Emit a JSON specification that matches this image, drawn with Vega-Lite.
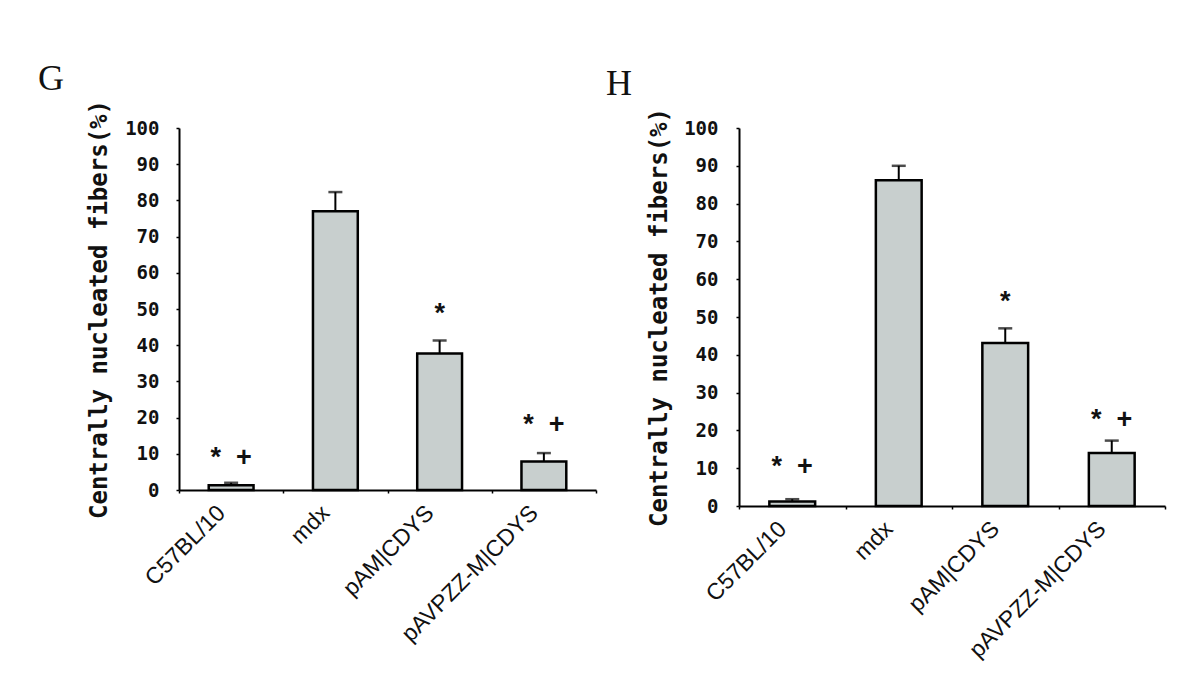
{
  "$schema": "https://vega.github.io/schema/vega-lite/v6.json",
  "background": "white",
  "padding": {"left": 38, "top": 61, "right": 5, "bottom": 5},
  "spacing": 9,
  "datasets": {
    "g": [
      {"group": "C57BL/10", "value": 1.3, "upper": 2.0, "note": "*\u00a0\u00a0+", "noteY": 8.8},
      {"group": "mdx", "value": 77, "upper": 82.3, "note": "", "noteY": 0},
      {"group": "pAM|CDYS", "value": 37.7, "upper": 41.3, "note": "*", "noteY": 48.6},
      {"group": "pAVPZZ-M|CDYS", "value": 7.9, "upper": 10.2, "note": "*\u00a0\u00a0+", "noteY": 18}
    ],
    "h": [
      {"group": "C57BL/10", "value": 1.2, "upper": 1.8, "note": "*\u00a0\u00a0+", "noteY": 10.3},
      {"group": "mdx", "value": 86.2, "upper": 90, "note": "", "noteY": 0},
      {"group": "pAM|CDYS", "value": 43.1, "upper": 47, "note": "*", "noteY": 54},
      {"group": "pAVPZZ-M|CDYS", "value": 14, "upper": 17.3, "note": "*\u00a0\u00a0+", "noteY": 22.7}
    ]
  },
  "config": {
    "view": {"stroke": null},
    "axis": {"grid": false, "domainColor": "black", "domainWidth": 2, "tickColor": "black", "tickWidth": 1.5},
    "axisY": {"values": [0,10,20,30,40,50,60,70,80,90,100], "labelOverlap": false, "labelFont": "DejaVu Sans Mono", "labelFontWeight": "bold", "labelFontSize": 19, "labelColor": "#111", "labelPadding": 17, "tickSize": 3,
              "titleFont": "DejaVu Sans Mono", "titleFontWeight": "bold", "titleFontSize": 24, "titleColor": "#111", "titlePadding": 13},
    "axisX": {"labelAngle": -45, "labelAlign": "right", "labelBaseline": "middle", "labelFont": "Liberation Sans", "labelFontSize": 23, "labelColor": "#111", "labelPadding": 16, "labelOffset": -10, "labelLimit": 0, "labelOverlap": false, "tickBand": "extent", "tickSize": 3},
    "title": {"font": "Liberation Serif", "fontSize": 36, "fontWeight": "normal", "color": "#111", "anchor": "start", "frame": "group"}
  },
  "hconcat": [
    {
      "width": 417,
      "height": 362,
      "title": {"text": "G", "dx": -141, "offset": 1},
      "data": {"name": "g"},
      "encoding": {
        "x": {"field": "group", "type": "nominal", "sort": null, "title": null,
              "scale": {"paddingInner": 0, "paddingOuter": 0}},
        "y": {"field": "value", "type": "quantitative",
              "scale": {"domain": [0, 100], "nice": false},
              "title": "Centrally nucleated fibers(%)"}
      },
      "layer": [
        {"mark": {"type": "rule", "color": "black", "strokeWidth": 2},
         "encoding": {"y2": {"field": "upper"}}},
        {"mark": {"type": "tick", "color": "black", "thickness": 2.5, "size": 14},
         "encoding": {"y": {"field": "upper", "type": "quantitative"}}},
        {"mark": {"type": "bar", "fill": "#c8cfce", "stroke": "black", "strokeWidth": 2.5, "width": {"band": 0.43}}},
        {"mark": {"type": "text", "font": "Liberation Sans", "fontSize": 27, "fontWeight": "bold", "color": "#111", "baseline": "middle"},
         "encoding": {"y": {"field": "noteY", "type": "quantitative"}, "text": {"field": "note"}}}
      ]
    },
    {
      "width": 426,
      "height": 378,
      "title": {"text": "H", "dx": -133, "offset": 4},
      "data": {"name": "h"},
      "encoding": {
        "x": {"field": "group", "type": "nominal", "sort": null, "title": null,
              "scale": {"paddingInner": 0, "paddingOuter": 0}},
        "y": {"field": "value", "type": "quantitative",
              "scale": {"domain": [0, 100], "nice": false},
              "title": "Centrally nucleated fibers(%)",
              "axis": {"labelPadding": 18, "titlePadding": 12}}
      },
      "layer": [
        {"mark": {"type": "rule", "color": "black", "strokeWidth": 2},
         "encoding": {"y2": {"field": "upper"}}},
        {"mark": {"type": "tick", "color": "black", "thickness": 2.5, "size": 14},
         "encoding": {"y": {"field": "upper", "type": "quantitative"}}},
        {"mark": {"type": "bar", "fill": "#c8cfce", "stroke": "black", "strokeWidth": 2.5, "width": {"band": 0.43}}},
        {"mark": {"type": "text", "font": "Liberation Sans", "fontSize": 27, "fontWeight": "bold", "color": "#111", "baseline": "middle"},
         "encoding": {"y": {"field": "noteY", "type": "quantitative"}, "text": {"field": "note"}}}
      ]
    }
  ]
}
